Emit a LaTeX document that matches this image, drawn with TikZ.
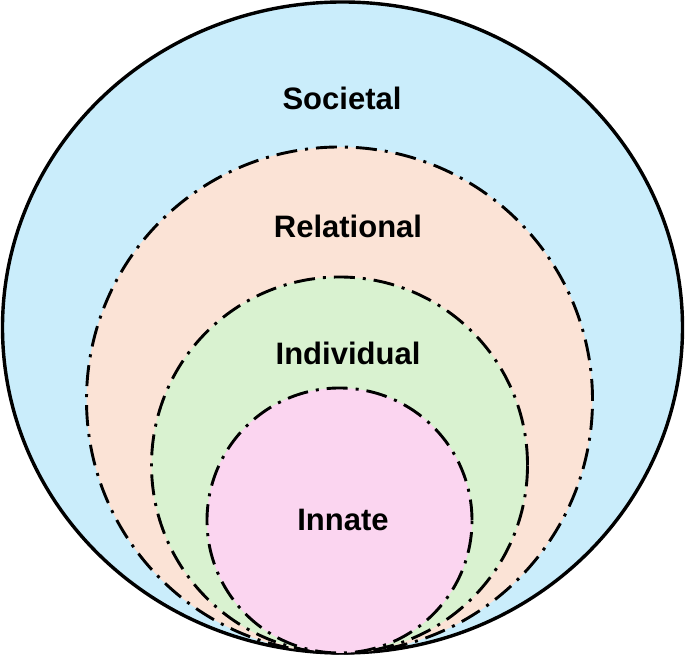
\documentclass[tikz,border=0pt]{standalone}
\usepackage{fontspec}
\setmainfont{Liberation Sans}
\usepackage{tikz}
\usetikzlibrary{positioning}
\usepackage{xcolor}
\definecolor{societalBlue}{HTML}{CAEDFB}
\definecolor{relationalPeach}{HTML}{FBE3D6}
\definecolor{individualGreen}{HTML}{D9F2D0}
\definecolor{innatePink}{HTML}{FBD5F0}

\begin{document}
\begin{tikzpicture}[x=1pt, y=1pt,
    layer/.style={draw=black, line width=2.9pt,
      dash pattern=on 21pt off 8pt on 3pt off 8pt},
    levellabel/.style={font=\fontsize{31}{36}\selectfont\bfseries}]
    \useasboundingbox (0,0) rectangle (685,655);
    % outer ring and the three nested ones, all touching at the bottom
    \filldraw[fill=societalBlue, draw=black, line width=3.4pt]
      (342.5,327.5) ellipse [x radius=340, y radius=325.5];
    \filldraw[layer, fill=relationalPeach] (339.5,255) circle (253);
    \filldraw[layer, fill=individualGreen] (339.5,190) circle (188);
    \filldraw[layer, fill=innatePink] (339.5,134.5) circle (132.5);
    \node[levellabel] (societal) at (342,557) {Societal};
    \node[levellabel] (relational) at (348,429) {Relational};
    \node[levellabel] (individual) at (348,302) {Individual};
    \node[levellabel] (innate) at (343,135) {Innate};
  \end{tikzpicture}
\end{document}
